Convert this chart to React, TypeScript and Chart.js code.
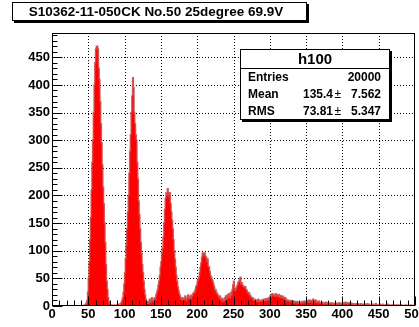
import React, { useEffect, useRef } from "react";
import { Chart, registerables } from "chart.js";

Chart.register(...registerables);

// ---- data (bin left edge = index, width 1) ----
const counts: number[] = [
  0, 0, 0, 0, 0, 0, 0, 0, 0, 0,
  0, 0, 0, 0, 0, 0, 0, 0, 0, 0,
  0, 0, 0, 0, 0, 0, 0, 0, 0, 0,
  0, 0, 0, 0, 0, 0, 0, 0, 0, 0,
  0, 0, 0, 1, 0, 1, 2, 3, 5, 10,
  25, 50, 80, 120, 160, 210, 260, 300, 350, 400,
  440, 465, 470, 470, 465, 430, 410, 370, 330, 295,
  255, 215, 185, 150, 115, 75, 45, 30, 15, 8,
  4, 2, 1, 2, 1, 0, 1, 2, 1, 1,
  2, 1, 2, 3, 2, 4, 6, 10, 15, 25,
  40, 60, 85, 110, 140, 170, 200, 240, 280, 310,
  350, 380, 413, 395, 350, 330, 310, 300, 260, 230,
  190, 165, 140, 115, 95, 75, 60, 45, 30, 20,
  12, 8, 6, 5, 8, 12, 6, 10, 15, 9,
  12, 8, 15, 12, 20, 25, 30, 38, 45, 55,
  70, 80, 95, 105, 125, 150, 175, 195, 205, 200,
  212, 205, 198, 205, 185, 170, 155, 140, 120, 100,
  85, 70, 55, 45, 35, 28, 22, 18, 14, 12,
  15, 10, 14, 12, 18, 15, 10, 16, 20, 14,
  15, 18, 14, 20, 18, 22, 25, 24, 30, 35,
  38, 45, 48, 52, 60, 70, 78, 88, 96, 95,
  92, 96, 90, 88, 80, 85, 72, 70, 62, 55,
  52, 48, 45, 40, 35, 28, 30, 25, 22, 20,
  18, 15, 18, 12, 10, 14, 8, 12, 10, 15,
  18, 12, 20, 15, 22, 18, 15, 25, 20, 30,
  38, 45, 30, 28, 32, 35, 38, 42, 45, 48,
  52, 40, 42, 38, 36, 35, 33, 35, 30, 28,
  25, 22, 24, 20, 18, 16, 14, 15, 12, 10,
  12, 9, 11, 8, 10, 12, 8, 9, 10, 8,
  11, 10, 12, 9, 11, 13, 10, 12, 14, 11,
  15, 18, 16, 20, 22, 19, 21, 18, 20, 22,
  17, 20, 18, 21, 16, 19, 17, 15, 18, 14,
  16, 13, 15, 12, 10, 11, 9, 10, 8, 9,
  10, 8, 7, 9, 6, 8, 7, 6, 8, 7,
  5, 6, 7, 5, 6, 8, 7, 6, 9, 8,
  7, 8, 10, 9, 7, 11, 8, 9, 10, 7,
  12, 9, 8, 11, 10, 7, 8, 6, 9, 7,
  6, 5, 6, 7, 5, 4, 6, 5, 7, 4,
  5, 6, 4, 5, 3, 6, 4, 5, 3, 4,
  5, 4, 3, 5, 4, 3, 6, 4, 3, 5,
  4, 3, 5, 6, 4, 7, 5, 6, 4, 5,
  6, 4, 3, 5, 4, 3, 4, 2, 3, 4,
  3, 2, 4, 3, 2, 3, 4, 2, 3, 2,
  3, 2, 1, 3, 2, 4, 2, 3, 1, 2,
  2, 3, 2, 1, 3, 2, 2, 4, 2, 1,
  2, 1, 3, 2, 1, 2, 3, 1, 2, 1,
  1, 2, 1, 3, 1, 2, 1, 1, 2, 1,
  2, 1, 1, 2, 1, 0, 2, 1, 1, 2,
  1, 1, 0, 2, 1, 1, 0, 1, 2, 1,
  1, 0, 1, 1, 0, 2, 1, 0, 1, 1,
];

const xMin = 0;
const xMax = 500;
const yMax = 494;
const xMajorTicks = [0, 50, 100, 150, 200, 250, 300, 350, 400, 450, 500];
const yMajorTicks = [0, 50, 100, 150, 200, 250, 300, 350, 400, 450];
const minorStep = 10;

const titleText = "S10362-11-050CK No.50 25degree 69.9V";
const histName = "h100";
const statLabels = ["Entries", "Mean", "RMS"];
const statValues = ["20000", "135.4", "73.81"];
const statErrors = ["", "7.562", "5.347"];

const FONT = '"Liberation Sans", Arial, Helvetica, sans-serif';

const rootPlugin = {
  id: "rootStyle",
  beforeDatasetsDraw(chart: any) {
    const { ctx, chartArea: a, scales } = chart;
    const xs = scales.x;
    const ys = scales.y;
    ctx.save();
    ctx.strokeStyle = "#000";
    ctx.lineWidth = 1;
    ctx.setLineDash([1, 2]);
    xMajorTicks.forEach((v) => {
      if (v <= xMin || v >= xMax) return;
      const px = Math.round(xs.getPixelForValue(v)) + 0.5;
      ctx.beginPath();
      ctx.moveTo(px, a.top);
      ctx.lineTo(px, a.bottom);
      ctx.stroke();
    });
    yMajorTicks.forEach((v) => {
      if (v <= 0) return;
      const py = Math.round(ys.getPixelForValue(v)) + 0.5;
      ctx.beginPath();
      ctx.moveTo(a.left, py);
      ctx.lineTo(a.right, py);
      ctx.stroke();
    });
    ctx.restore();
  },
  afterDatasetsDraw(chart: any) {
    const { ctx, chartArea: a, scales } = chart;
    const xs = scales.x;
    const ys = scales.y;
    ctx.save();
    ctx.strokeStyle = "#000";
    ctx.lineWidth = 1;
    ctx.setLineDash([]);
    const L = Math.round(a.left) + 0.5;
    const R = Math.round(a.right) - 0.5;
    const T = Math.round(a.top) + 0.5;
    const B = Math.round(a.bottom) - 0.5;
    ctx.strokeRect(L, T, R - L, B - T);
    for (let v = xMin; v <= xMax; v += minorStep) {
      const major = xMajorTicks.includes(v);
      const px = Math.round(xs.getPixelForValue(v)) + 0.5;
      ctx.beginPath();
      ctx.moveTo(px, B);
      ctx.lineTo(px, B - (major ? 9 : 5));
      ctx.stroke();
    }
    for (let v = 0; v <= yMax; v += minorStep) {
      const major = yMajorTicks.includes(v);
      const py = Math.round(ys.getPixelForValue(v)) + 0.5;
      ctx.beginPath();
      ctx.moveTo(L, py);
      ctx.lineTo(L + (major ? 10 : 5), py);
      ctx.stroke();
    }
    ctx.restore();
  },
  afterDraw(chart: any) {
    const { ctx } = chart;
    ctx.save();
    ctx.setLineDash([]);
    const tb = { x: 12, y: 2, w: 294, h: 18 };
    ctx.fillStyle = "#000";
    ctx.fillRect(tb.x + 2, tb.y + 2, tb.w + 1, tb.h + 1);
    ctx.fillStyle = "#fff";
    ctx.fillRect(tb.x, tb.y, tb.w, tb.h);
    ctx.strokeStyle = "#000";
    ctx.lineWidth = 1;
    ctx.strokeRect(tb.x + 0.5, tb.y + 0.5, tb.w, tb.h);
    ctx.fillStyle = "#000";
    ctx.font = `bold 13.5px ${FONT}`;
    ctx.textAlign = "center";
    ctx.textBaseline = "middle";
    ctx.fillText(titleText, 156, tb.y + tb.h / 2 + 1);

    const sb = { x: 240, y: 49, w: 149, h: 70 };
    ctx.fillStyle = "#000";
    ctx.fillRect(sb.x + 2, sb.y + 2, sb.w + 1, sb.h + 1);
    ctx.fillStyle = "#fff";
    ctx.fillRect(sb.x, sb.y, sb.w, sb.h);
    ctx.strokeStyle = "#000";
    ctx.strokeRect(sb.x + 0.5, sb.y + 0.5, sb.w, sb.h);
    ctx.beginPath();
    ctx.moveTo(sb.x, 68.5);
    ctx.lineTo(sb.x + sb.w, 68.5);
    ctx.stroke();
    ctx.fillStyle = "#000";
    ctx.font = `bold 15px ${FONT}`;
    ctx.textAlign = "center";
    ctx.fillText(histName, 315, 60);
    const rowY = [77.5, 94.5, 111.5];
    statLabels.forEach((lab, i) => {
      ctx.font = `bold 12px ${FONT}`;
      ctx.textAlign = "left";
      ctx.fillText(lab, 248, rowY[i]);
      if (statErrors[i]) {
        ctx.textAlign = "right";
        ctx.fillText(statValues[i], 333, rowY[i]);
        ctx.fillText(statErrors[i], 381, rowY[i]);
        ctx.font = `12px ${FONT}`;
        ctx.textAlign = "left";
        ctx.fillText("\u00b1", 334.5, rowY[i]);
      } else {
        ctx.textAlign = "right";
        ctx.fillText(statValues[i], 381, rowY[i]);
      }
    });
    ctx.restore();
  },
};

export default function App() {
  const canvasRef = useRef<HTMLCanvasElement | null>(null);

  useEffect(() => {
    if (!canvasRef.current) return;
    const points = counts.map((c, i) => ({ x: xMin + i, y: c }));
    points.push({ x: xMax, y: counts[counts.length - 1] });
    const tickFont = { family: FONT, size: 13, weight: "bold" as const };
    const chart = new Chart(canvasRef.current, {
      type: "line",
      data: {
        datasets: [
          {
            data: points,
            stepped: "after",
            fill: "origin",
            backgroundColor: "rgb(255,0,0)",
            borderColor: "rgba(205,70,70,0.85)",
            borderWidth: 1.5,
            pointRadius: 0,
            tension: 0,
          },
        ],
      },
      options: {
        animation: false,
        responsive: false,
        devicePixelRatio: 1,
        events: [],
        layout: { padding: { top: 33, right: 4, left: 0, bottom: 0 } },
        plugins: {
          legend: { display: false },
          tooltip: { enabled: false },
          title: { display: false },
        },
        scales: {
          x: {
            type: "linear",
            min: xMin,
            max: xMax,
            grid: { display: false, drawTicks: false },
            border: { display: false },
            ticks: {
              stepSize: 50,
              color: "#000",
              font: tickFont,
              padding: 1,
              maxRotation: 0,
              autoSkip: false,
            },
            afterFit: (s: any) => {
              s.height = 21;
              s.paddingLeft = 0;
              s.paddingRight = 0;
            },
          },
          y: {
            type: "linear",
            min: 0,
            max: yMax,
            grid: { display: false, drawTicks: false },
            border: { display: false },
            ticks: {
              stepSize: 50,
              includeBounds: false,
              color: "#000",
              font: tickFont,
              padding: 2,
              autoSkip: false,
            },
            afterFit: (s: any) => {
              s.width = 52;
              s.paddingTop = 0;
              s.paddingBottom = 0;
            },
          },
        },
      },
      plugins: [rootPlugin],
    });
    return () => chart.destroy();
  }, []);

  return (
    <div style={{ position: "fixed", left: 0, top: 0, width: 419, height: 327, background: "#fff" }}>
      <canvas ref={canvasRef} width={419} height={327} style={{ display: "block" }} />
    </div>
  );
}
